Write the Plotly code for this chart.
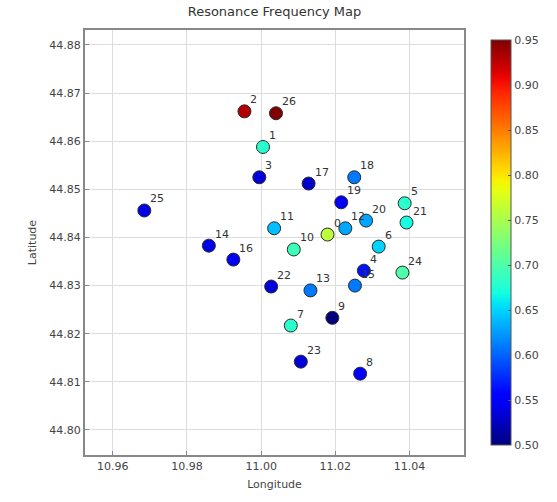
import plotly.graph_objects as go
import numpy as np

labels = ["0", "1", "2", "3", "4", "5", "6", "7", "8", "9", "10", "11", "12", "13",
          "14", "15", "16", "17", "18", "19", "20", "21", "22", "23", "24", "25", "26"]
lon = [11.0179, 11.0005, 10.9955, 10.9995, 11.0277, 11.0387, 11.0317, 11.0080, 11.0267,
       11.0192, 11.0088, 11.0035, 11.0227, 11.0133, 10.9859, 11.0253, 10.9925, 11.0128,
       11.0251, 11.0216, 11.0283, 11.0392, 11.0027, 11.0107, 11.0381, 10.9685, 11.0040]
lat = [44.8406, 44.8588, 44.8662, 44.8525, 44.8331, 44.8471, 44.8381, 44.8217, 44.8117,
       44.8233, 44.8375, 44.8419, 44.8419, 44.8290, 44.8383, 44.8300, 44.8354, 44.8512,
       44.8525, 44.8473, 44.8435, 44.8431, 44.8298, 44.8142, 44.8327, 44.8456, 44.8658]
freq = [0.76, 0.68, 0.93, 0.535, 0.565, 0.68, 0.65, 0.68, 0.55,
        0.50, 0.69, 0.64, 0.63, 0.61, 0.54, 0.61, 0.545, 0.53,
        0.61, 0.55, 0.63, 0.67, 0.535, 0.535, 0.70, 0.54, 0.95]
cb_ticks = [0.50, 0.55, 0.60, 0.65, 0.70, 0.75, 0.80, 0.85, 0.90, 0.95]
x_ticks = [10.96, 10.98, 11.00, 11.02, 11.04]
y_ticks = [44.80, 44.81, 44.82, 44.83, 44.84, 44.85, 44.86, 44.87, 44.88]

# matplotlib "jet" colormap segment data
_r = [(0, 0), (0.35, 0), (0.66, 1), (0.89, 1), (1, 0.5)]
_g = [(0, 0), (0.125, 0), (0.375, 1), (0.64, 1), (0.91, 0), (1, 0)]
_b = [(0, 0.5), (0.11, 1), (0.34, 1), (0.65, 0), (1, 0)]
def _interp(seg, t):
    xs, ys = zip(*seg)
    return float(np.interp(t, xs, ys))
jet = []
for t in np.linspace(0, 1, 41):
    r, g, b = (_interp(_r, t), _interp(_g, t), _interp(_b, t))
    jet.append([float(t), f"rgb({int(r*255)},{int(g*255)},{int(b*255)})"])

fig = go.Figure()
fig.add_trace(go.Scatter(
    x=lon, y=lat, mode="markers",
    marker=dict(size=13, color=freq, colorscale=jet, cmin=0.50, cmax=0.95,
                line=dict(color="#2a2a2a", width=1),
                colorbar=dict(tickvals=cb_ticks, ticktext=[f"{v:.2f}" for v in cb_ticks],
                              thickness=20, len=425, lenmode="pixels", y=0.5, yanchor="middle",
                              x=1.066, xanchor="left", xpad=2, outlinecolor="#555555",
                              outlinewidth=1, ticks="inside", ticklen=3, tickcolor="#555555",
                              tickfont=dict(size=11, color="#444444", family="DejaVu Sans")),
                showscale=True),
    showlegend=False, hoverinfo="skip"))

for lb, xx, yy in zip(labels, lon, lat):
    fig.add_annotation(x=xx, y=yy, text=lb, showarrow=False, xanchor="left", yanchor="bottom",
                       xshift=4, yshift=3, font=dict(size=11, color="#333333", family="DejaVu Sans"))

axis_common = dict(showgrid=True, gridcolor="#dddddd", gridwidth=1, showline=True,
                   linecolor="#888888", linewidth=2, mirror=True, ticks="inside", ticklen=4,
                   tickcolor="#888888", zeroline=False,
                   tickfont=dict(size=11, color="#444444", family="DejaVu Sans"))

fig.update_layout(
    width=557, height=502,
    margin=dict(l=85, r=90, t=30, b=47),
    paper_bgcolor="white", plot_bgcolor="white",
    title=dict(text="Resonance Frequency Map", x=0.5, xref="paper", xanchor="center",
               y=1, yref="container", yanchor="top", pad=dict(t=7),
               font=dict(size=13, color="#333333", family="DejaVu Sans")),
    xaxis=dict(range=[10.9525, 11.0547], tickvals=x_ticks,
               ticktext=[f"{v:.2f}" for v in x_ticks],
               title=dict(text="Longitude", standoff=8,
                          font=dict(size=11, color="#444444", family="DejaVu Sans")),
               **axis_common),
    yaxis=dict(range=[44.7948, 44.8831], tickvals=y_ticks,
               ticktext=[f"{v:.2f}" for v in y_ticks],
               title=dict(text="Latitude", standoff=10,
                          font=dict(size=11, color="#444444", family="DejaVu Sans")),
               **axis_common),
)

fig.write_html("out.html")
